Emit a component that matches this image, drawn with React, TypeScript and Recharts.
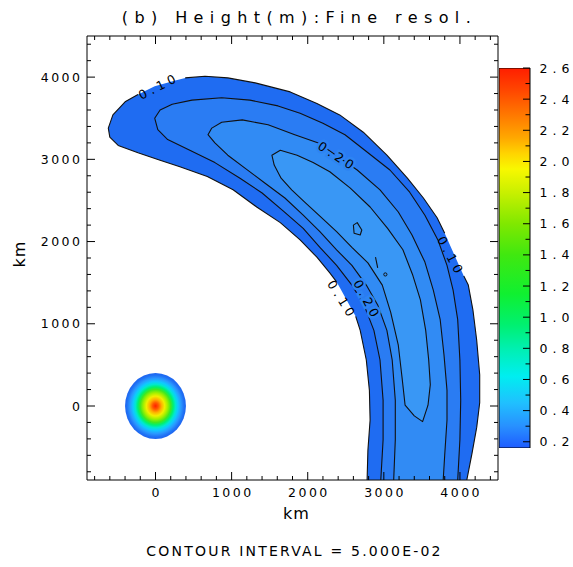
import React from 'react';
import { ScatterChart, Scatter, XAxis, YAxis, ReferenceArea } from 'recharts';

type P = { x: number; y: number };
const toPts = (a: number[][]): P[] => a.map(([x, y]) => ({ x, y }));

// positions in km
// outer edge of the shaded field (0.10 m contour)
const outerEdge = toPts([
  [-620, 3380], [-560, 3540], [-400, 3700], [-230, 3790], [-10, 3890], [260, 3960],
  [390, 3990], [650, 4010], [950, 3990], [1310, 3930], [1770, 3820], [2120, 3680],
  [2420, 3540], [2730, 3330], [3040, 3050], [3310, 2770], [3520, 2530], [3700, 2290],
  [3800, 2100], [4050, 1580], [4110, 1470], [4170, 1170], [4220, 800], [4260, 380],
  [4260, 40], [4220, -260], [4160, -570], [4090, -900], [2780, -900], [2790, -540],
  [2820, -170], [2810, 190], [2770, 560], [2690, 920], [2630, 1090], [2380, 1510],
  [2290, 1620], [2120, 1810], [1900, 2020], [1640, 2230], [1330, 2420], [1020, 2630],
  [680, 2790], [320, 2910], [60, 2990], [-230, 3080], [-490, 3170], [-600, 3270],
]);

const contour015 = toPts([
  [2960, -900], [2990, -410], [2990, 70], [2950, 560], [2870, 920], [2740, 1230],
  [2580, 1470], [2380, 1710], [2160, 1930], [1940, 2160], [1680, 2370], [1400, 2590],
  [1110, 2770], [780, 2960], [450, 3110], [160, 3240], [30, 3360], [-10, 3500],
  [60, 3600], [220, 3670], [480, 3720], [870, 3750], [1240, 3720], [1610, 3650],
  [1900, 3560], [2200, 3440], [2490, 3300], [2750, 3110], [3080, 2870], [3340, 2600],
  [3540, 2320], [3710, 2020], [3830, 1710], [3910, 1410], [3970, 1050], [4000, 560],
  [4010, 70], [4000, -410], [3970, -900],
]);

const contour020 = toPts([
  [3130, -900], [3150, -410], [3150, 70], [3110, 560], [3040, 920], [2920, 1230],
  [2770, 1470], [2580, 1710], [2380, 1900], [2160, 2120], [1940, 2320], [1700, 2530],
  [1440, 2710], [1180, 2890], [950, 3050], [780, 3200], [690, 3300], [740, 3380],
  [870, 3450], [1140, 3480], [1480, 3420], [1830, 3300], [2140, 3200], [2370, 3050],
  [2650, 2870], [2950, 2630], [3190, 2360], [3370, 2080], [3540, 1750], [3650, 1410],
  [3740, 1050], [3790, 620], [3830, 190], [3830, -170], [3800, -600], [3780, -900],
]);

const contour025 = toPts([
  [1530, 3050], [1640, 3110], [1860, 3050], [2070, 2960], [2290, 2850], [2560, 2650],
  [2820, 2420], [3050, 2160], [3250, 1900], [3380, 1590], [3480, 1290], [3550, 920],
  [3590, 560], [3610, 260], [3580, 10], [3510, -190], [3400, -120], [3280, 10],
  [3240, 340], [3190, 740], [3090, 1140], [2980, 1470], [2790, 1740], [2580, 1930],
  [2380, 2120], [2160, 2310], [1960, 2480], [1790, 2630], [1650, 2770], [1560, 2930],
]);

const smallCell = toPts([[2600, 2200], [2650, 2230], [2710, 2140], [2690, 2080], [2610, 2100]]);
const smallMark = toPts([[2890, 1810], [2920, 1680]]);
const smallDot = toPts([[3020, 1600]]);

const contourLabels = [
  { x: 20, y: 3880, text: '0.10', angle: -27 },
  { x: 2370, y: 3050, text: '0.20', angle: 33 },
  { x: 3870, y: 1840, text: '0.10', angle: 62 },
  { x: 2440, y: 1310, text: '0.10', angle: 58 },
  { x: 2770, y: 1310, text: '0.20', angle: 62 },
];

// initial hump at the origin
const sourceCenter = { x: 0, y: 0 };
const sourceRadius = 400;

const xTicks = [-800, -600, -400, -200, 0, 200, 400, 600, 800, 1000, 1200, 1400, 1600, 1800, 2000,
  2200, 2400, 2600, 2800, 3000, 3200, 3400, 3600, 3800, 4000, 4200, 4400];
const yTicks = [-800, -600, -400, -200, 0, 200, 400, 600, 800, 1000, 1200, 1400, 1600, 1800, 2000,
  2200, 2400, 2600, 2800, 3000, 3200, 3400, 3600, 3800, 4000, 4200, 4400];
const colorTicks = [0.2, 0.3, 0.4, 0.5, 0.6, 0.7, 0.8, 0.9, 1.0, 1.1, 1.2, 1.3, 1.4, 1.5, 1.6, 1.7,
  1.8, 1.9, 2.0, 2.1, 2.2, 2.3, 2.4, 2.5, 2.6];
// colour scale extent (m)
const colorRange = toPts([[0, 0.16], [1, 2.6]]);

const FONT = '"DejaVu Sans", sans-serif';
const DOMAIN: [number, number] = [-900, 4500];

const pathOf = (pts: { x: number; y: number }[], close: boolean) =>
  pts.map((p, i) => `${i ? 'L' : 'M'}${p.x.toFixed(1)},${p.y.toFixed(1)}`).join('') + (close ? 'Z' : '');

const fillShape = (color: string) => (p: any) => <path d={pathOf(p.points, true)} fill={color} stroke="none" />;
const lineShape = (closed: boolean) => (p: any) => (
  <path d={pathOf(p.points, closed)} fill="none" stroke="#111" strokeWidth={1.1} strokeLinejoin="round" />
);
const noDot = () => <g />;

const isMajor = (v: number) => v % 1000 === 0;
const tickText = { fontFamily: FONT, fontSize: 12.5, letterSpacing: '2.5px', fill: '#000' } as const;

const BottomTick = ({ x, y, payload }: any) => {
  const v = payload.value;
  return (
    <g>
      <line x1={x} y1={y} x2={x} y2={y - (isMajor(v) ? 8 : 4)} stroke="#000" />
      {isMajor(v) && <text x={x + 1.2} y={y + 17} textAnchor="middle" style={tickText}>{v}</text>}
    </g>
  );
};
const TopTick = ({ x, y, payload }: any) => (
  <line x1={x} y1={y} x2={x} y2={y + (isMajor(payload.value) ? 8 : 4)} stroke="#000" />
);
const LeftTick = ({ x, y, payload }: any) => {
  const v = payload.value;
  return (
    <g>
      <line x1={x} y1={y} x2={x + (isMajor(v) ? 8 : 4)} y2={y} stroke="#000" />
      {isMajor(v) && <text x={x - 4.5} y={y + 4.5} textAnchor="end" style={tickText}>{v}</text>}
    </g>
  );
};
const RightTick = ({ x, y, payload }: any) => (
  <line x1={x} y1={y} x2={x - (isMajor(payload.value) ? 8 : 4)} y2={y} stroke="#000" />
);

const ColorTick = ({ x, y, payload }: any) => {
  const v = payload.value as number;
  const big = Math.round(v * 10) % 2 === 0;
  return (
    <g>
      <line x1={x} y1={y} x2={x - (big ? 7 : 4.5)} y2={y} stroke="#000" />
      {big && (
        <text x={x + 9.5} y={y + 4.5} style={{ ...tickText, letterSpacing: '5px' }}>{v.toFixed(1)}</text>
      )}
    </g>
  );
};

const LabelShape = (p: any) => {
  const { cx, cy, payload } = p;
  const halo = payload.text === '0.20';
  return (
    <text
      x={cx + 2}
      y={cy}
      transform={`rotate(${payload.angle} ${cx} ${cy})`}
      textAnchor="middle"
      dominantBaseline="central"
      style={{ fontFamily: FONT, fontSize: 12.5, letterSpacing: '4px', fill: '#000' }}
      stroke={halo ? '#2d84f3' : 'none'}
      strokeWidth={halo ? 5 : 0}
      paintOrder="stroke"
    >
      {payload.text}
    </text>
  );
};

const SourceShape = (p: any) => (
  <g>
    <defs>
      <radialGradient id="srcGrad">
        <stop offset="0" stopColor="#ff2000" />
        <stop offset="0.1" stopColor="#ff5a00" />
        <stop offset="0.2" stopColor="#ffb000" />
        <stop offset="0.3" stopColor="#f0f000" />
        <stop offset="0.4" stopColor="#a0f000" />
        <stop offset="0.5" stopColor="#40e820" />
        <stop offset="0.58" stopColor="#00f070" />
        <stop offset="0.66" stopColor="#00e8d0" />
        <stop offset="0.74" stopColor="#10c8ff" />
        <stop offset="0.84" stopColor="#2a98ff" />
        <stop offset="0.94" stopColor="#2070f4" />
        <stop offset="1" stopColor="#1e66f0" />
      </radialGradient>
    </defs>
    <ellipse cx={p.x + p.width / 2} cy={p.y + p.height / 2} rx={p.width / 2} ry={p.height / 2} fill="url(#srcGrad)" />
  </g>
);

// colour bar: rectangle spanning the bounding box of the two range points
const ColorBarLine = (p: any) => {
  const xs = p.points.map((q: P) => q.x);
  const ys = p.points.map((q: P) => q.y);
  const x0 = Math.min(...xs), x1 = Math.max(...xs), y0 = Math.min(...ys), y1 = Math.max(...ys);
  return (
    <g>
      <defs>
        <linearGradient id="cbarGrad" x1="0" y1="0" x2="0" y2="1">
          <stop offset="0" stopColor="#ff1e00" />
          <stop offset="0.061" stopColor="#ff4800" />
          <stop offset="0.123" stopColor="#ff7800" />
          <stop offset="0.184" stopColor="#ffa800" />
          <stop offset="0.225" stopColor="#ffd400" />
          <stop offset="0.266" stopColor="#f8f800" />
          <stop offset="0.328" stopColor="#c8f000" />
          <stop offset="0.41" stopColor="#80e800" />
          <stop offset="0.492" stopColor="#40e810" />
          <stop offset="0.594" stopColor="#10f030" />
          <stop offset="0.676" stopColor="#00f070" />
          <stop offset="0.738" stopColor="#00f0b0" />
          <stop offset="0.811" stopColor="#00eef0" />
          <stop offset="0.881" stopColor="#20c0ff" />
          <stop offset="0.943" stopColor="#2890ff" />
          <stop offset="1" stopColor="#1e5cff" />
        </linearGradient>
      </defs>
      <rect x={x0} y={y0} width={x1 - x0} height={y1 - y0} fill="url(#cbarGrad)" stroke="#000" />
    </g>
  );
};

const textBase: React.CSSProperties = { position: 'absolute', fontFamily: FONT, color: '#000', whiteSpace: 'nowrap' };
const axisCommon = {
  type: 'number' as const,
  domain: DOMAIN,
  interval: 0 as const,
  allowDataOverflow: true,
  tickSize: 0,
  tickMargin: 0,
  tickLine: false,
  axisLine: { stroke: '#000' },
};

export default function App() {
  return (
    <div style={{ position: 'absolute', left: 0, top: 0, width: 573, height: 567, background: '#fff' }}>
      <ScatterChart width={573} height={567} margin={{ top: 35, right: 74, bottom: 86, left: 86 }}>
        <XAxis {...axisCommon} dataKey="x" ticks={xTicks} height={1} tick={BottomTick} />
        <XAxis {...axisCommon} xAxisId="top" orientation="top" dataKey="x" ticks={xTicks} height={1} tick={TopTick} />
        <YAxis {...axisCommon} dataKey="y" ticks={yTicks} width={1} tick={LeftTick} />
        <YAxis {...axisCommon} yAxisId="right" orientation="right" dataKey="y" ticks={yTicks} width={1} tick={RightTick} />

        <Scatter data={outerEdge} line={fillShape('#1f6cf2')} shape={noDot} isAnimationActive={false} />
        <Scatter data={contour015} line={fillShape('#2a7cf3')} shape={noDot} isAnimationActive={false} />
        <Scatter data={contour020} line={fillShape('#318bf4')} shape={noDot} isAnimationActive={false} />
        <Scatter data={contour025} line={fillShape('#3997f5')} shape={noDot} isAnimationActive={false} />

        <Scatter data={outerEdge.slice(6, 19)} line={lineShape(false)} shape={noDot} isAnimationActive={false} />
        <Scatter data={outerEdge.slice(19, 35)} line={lineShape(false)} shape={noDot} isAnimationActive={false} />
        <Scatter data={outerEdge.slice(35).concat(outerEdge.slice(0, 4))} line={lineShape(false)} shape={noDot} isAnimationActive={false} />
        <Scatter data={contour015} line={lineShape(false)} shape={noDot} isAnimationActive={false} />
        <Scatter data={contour020} line={lineShape(false)} shape={noDot} isAnimationActive={false} />
        <Scatter data={contour025} line={lineShape(true)} shape={noDot} isAnimationActive={false} />
        <Scatter data={smallCell} line={lineShape(true)} shape={noDot} isAnimationActive={false} />
        <Scatter data={smallMark} line={lineShape(false)} shape={noDot} isAnimationActive={false} />
        <Scatter data={smallDot} isAnimationActive={false}
          shape={(p: any) => <circle cx={p.cx} cy={p.cy} r={1.6} fill="none" stroke="#111" />} />

        <Scatter data={contourLabels} shape={LabelShape} isAnimationActive={false} />

        <ReferenceArea
          x1={sourceCenter.x - sourceRadius}
          x2={sourceCenter.x + sourceRadius}
          y1={sourceCenter.y - sourceRadius}
          y2={sourceCenter.y + sourceRadius}
          shape={SourceShape}
        />
      </ScatterChart>

      <div style={{ position: 'absolute', left: 499, top: 0 }}>
        <ScatterChart width={74} height={567} margin={{ top: 68, right: 42, bottom: 119, left: 0 }}>
          <XAxis type="number" dataKey="x" domain={[0, 1]} hide />
          <YAxis orientation="right" type="number" dataKey="y" domain={[0.16, 2.6]} ticks={colorTicks} interval={0}
            allowDataOverflow width={1} tickSize={0} tickMargin={0} tickLine={false} tick={ColorTick} axisLine={false} />
          <Scatter data={colorRange} line={ColorBarLine} shape={noDot} isAnimationActive={false} />
        </ScatterChart>
      </div>

      <div style={{ ...textBase, left: 87, width: 411, top: 9, fontSize: 16, lineHeight: '18px', letterSpacing: '6.4px', textAlign: 'center', paddingLeft: 7 }}>
        (b) Height(m):Fine resol.
      </div>
      <div style={{ ...textBase, left: 87, width: 411, top: 505, fontSize: 16, lineHeight: '18px', letterSpacing: '1px', textAlign: 'center', paddingLeft: 4 }}>
        km
      </div>
      <div style={{ ...textBase, left: 0, width: 40, top: 245, fontSize: 16, lineHeight: '18px', letterSpacing: '1px', textAlign: 'center', transform: 'rotate(-90deg)' }}>
        km
      </div>
      <div style={{ ...textBase, left: 87, width: 411, top: 543, fontSize: 14, lineHeight: '17px', letterSpacing: '2.2px', textAlign: 'center', paddingLeft: 2 }}>
        CONTOUR INTERVAL = 5.000E-02
      </div>
    </div>
  );
}
